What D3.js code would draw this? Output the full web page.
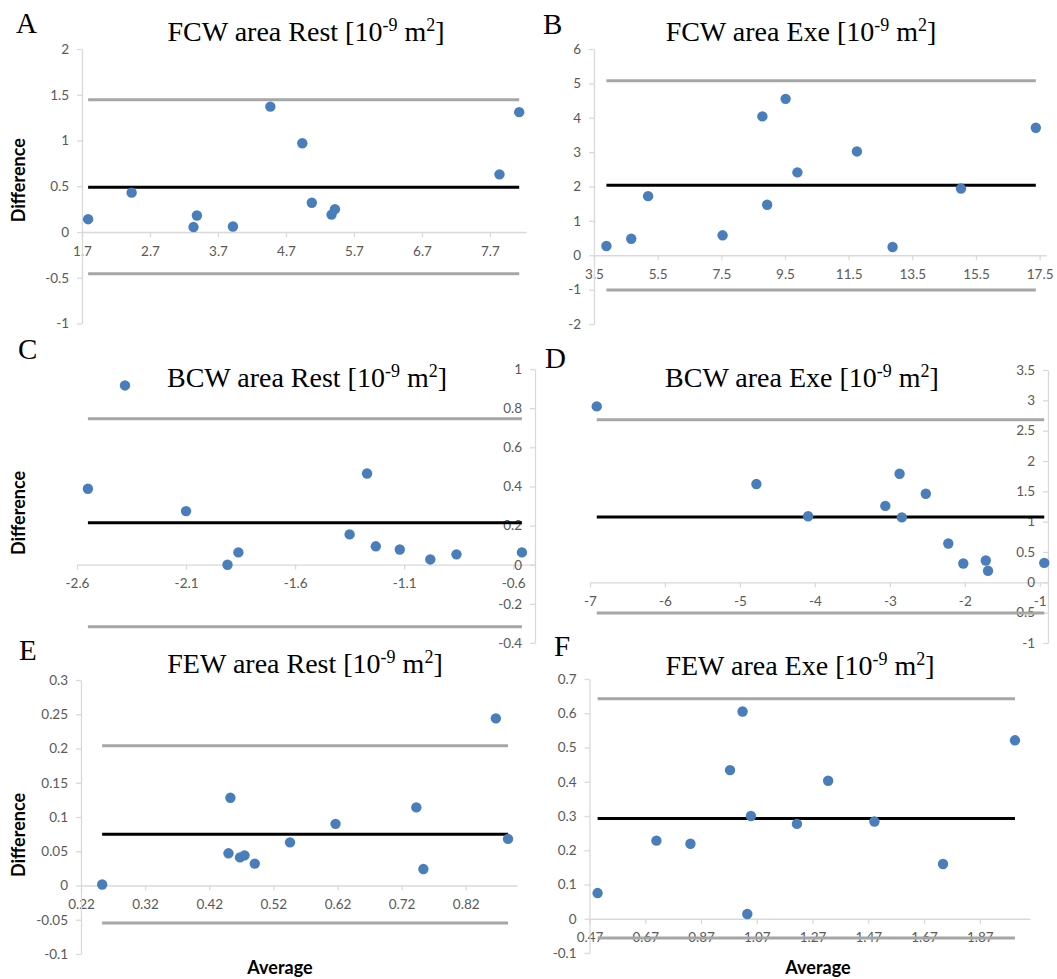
<!DOCTYPE html>
<html><head><meta charset="utf-8">
<script src="https://cdn.jsdelivr.net/npm/d3@7"></script>
<style>body{margin:0;background:#fff}svg{display:block}</style>
</head><body>
<svg id="chart" width="1057" height="979"></svg>
<script>
// ---------- DATA ----------
const panelLetters = ["A", "B", "C", "D", "E", "F"];
const panelTitles = ["FCW area Rest", "FCW area Exe", "BCW area Rest", "BCW area Exe", "FEW area Rest", "FEW area Exe"];

const avgA = [1.79, 2.43, 3.34, 3.39, 3.92, 4.47, 4.94, 5.08, 5.37, 5.42, 7.84, 8.13];
const diffA = [0.14, 0.43, 0.054, 0.18, 0.06, 1.37, 0.97, 0.32, 0.19, 0.25, 0.63, 1.31];
const avgB = [3.89, 4.67, 5.20, 7.54, 8.79, 8.94, 9.52, 9.89, 11.76, 12.88, 15.03, 17.38];
const diffB = [0.27, 0.48, 1.72, 0.58, 4.04, 1.47, 4.55, 2.41, 3.02, 0.24, 1.94, 3.71];
const avgC = [-2.55, -2.38, -2.10, -1.91, -1.86, -1.35, -1.27, -1.23, -1.12, -0.98, -0.86, -0.56];
const diffC = [0.388, 0.916, 0.274, 0.0, 0.063, 0.155, 0.466, 0.094, 0.078, 0.027, 0.053, 0.063];
const avgD = [-6.91, -4.78, -4.09, -3.06, -2.87, -2.84, -2.52, -2.22, -2.02, -1.72, -1.69, -0.94];
const diffD = [2.90, 1.62, 1.09, 1.26, 1.79, 1.07, 1.46, 0.64, 0.31, 0.36, 0.19, 0.32];
const avgE = [0.253, 0.450, 0.453, 0.468, 0.475, 0.491, 0.546, 0.617, 0.743, 0.754, 0.867, 0.886];
const diffE = [0.0015, 0.047, 0.128, 0.041, 0.044, 0.032, 0.063, 0.090, 0.114, 0.024, 0.244, 0.068];
const avgF = [0.499, 0.71, 0.832, 0.974, 1.019, 1.036, 1.049, 1.214, 1.326, 1.492, 1.738, 1.996];
const diffF = [0.075, 0.228, 0.219, 0.434, 0.605, 0.014, 0.300, 0.277, 0.403, 0.284, 0.160, 0.521];

// mean difference, upper and lower limits of agreement
const meanLines = [0.49, 2.035, 0.214, 1.077, 0.075, 0.293];
const upperLines = [1.446, 5.08, 0.746, 2.68, 0.204, 0.642];
const lowerLines = [-0.457, -1.01, -0.317, -0.505, -0.0546, -0.056];

// axis domains and tick labels
const xDomainA = [1.7, 8.23], yDomainA = [-1, 2];
const xDomainB = [3.5, 17.7], yDomainB = [-2, 6];
const xDomainC = [-2.6, -0.5], yDomainC = [-0.4, 1];
const xDomainD = [-7, -0.89], yDomainD = [-1, 3.5];
const xDomainE = [0.22, 0.9], yDomainE = [-0.1, 0.3];
const xDomainF = [0.47, 2.05], yDomainF = [-0.1, 0.7];

const xTicksA = [1.7, 2.7, 3.7, 4.7, 5.7, 6.7, 7.7];
const yTicksA = [-1, -0.5, 0, 0.5, 1, 1.5, 2];
const xTicksB = [3.5, 5.5, 7.5, 9.5, 11.5, 13.5, 15.5, 17.5];
const yTicksB = [-2, -1, 0, 1, 2, 3, 4, 5, 6];
const xTicksC = [-2.6, -2.1, -1.6, -1.1, -0.6];
const yTicksC = [-0.4, -0.2, 0, 0.2, 0.4, 0.6, 0.8, 1];
const xTicksD = [-7, -6, -5, -4, -3, -2, -1];
const yTicksD = [-1, -0.5, 0, 0.5, 1, 1.5, 2, 2.5, 3, 3.5];
const xTicksE = [0.22, 0.32, 0.42, 0.52, 0.62, 0.72, 0.82];
const yTicksE = [-0.1, -0.05, 0, 0.05, 0.1, 0.15, 0.2, 0.25, 0.3];
const xTicksF = [0.47, 0.67, 0.87, 1.07, 1.27, 1.47, 1.67, 1.87];
const yTicksF = [-0.1, 0, 0.1, 0.2, 0.3, 0.4, 0.5, 0.6, 0.7];

const yAxisLabel = "Difference";
const xAxisLabel = "Average";

// ---------- LAYOUT / STYLE ----------
const layout = [
  {avg: avgA, diff: diffA, xd: xDomainA, yd: yDomainA, xt: xTicksA, yt: yTicksA, xr: [82, 526], yr: [323.5, 49], ySide: "min",
   letter: [16, 33], title: [306, 41], yLab: true, xLab: false},
  {avg: avgB, diff: diffB, xd: xDomainB, yd: yDomainB, xt: xTicksB, yt: yTicksB, xr: [594, 1046], yr: [324, 49], ySide: "min",
   letter: [543, 34], title: [801, 41], yLab: false, xLab: false},
  {avg: avgC, diff: diffC, xd: xDomainC, yd: yDomainC, xt: xTicksC, yt: yTicksC, xr: [77, 535], yr: [643, 369], ySide: "max",
   letter: [18, 359], title: [307, 387], yLab: true, xLab: false},
  {avg: avgD, diff: diffD, xd: xDomainD, yd: yDomainD, xt: xTicksD, yt: yTicksD, xr: [590, 1048], yr: [643, 370], ySide: "max",
   letter: [545, 368], title: [802, 387], yLab: false, xLab: false},
  {avg: avgE, diff: diffE, xd: xDomainE, yd: yDomainE, xt: xTicksE, yt: yTicksE, xr: [81, 517], yr: [954, 680], ySide: "min",
   letter: [19, 660], title: [305, 673], yLab: true, xLab: true},
  {avg: avgF, diff: diffF, xd: xDomainF, yd: yDomainF, xt: xTicksF, yt: yTicksF, xr: [589.5, 1030], yr: [953, 679], ySide: "min",
   letter: [554, 656], title: [800, 675], yLab: false, xLab: true}
];

const svg = d3.select("#chart");
svg.append("rect").attr("width", 1057).attr("height", 979).attr("fill", "#fff");

const serif = "'Liberation Serif', 'Times New Roman', serif";
const sans = "Lato, 'Open Sans', sans-serif";
const fmt = v => String(v);
const axisColor = "#d9d9d9";
const labelColor = "#595959";

layout.forEach((p, i) => {
  const g = svg.append("g");
  const x = d3.scaleLinear().domain(p.xd).range(p.xr);
  const y = d3.scaleLinear().domain(p.yd).range(p.yr);

  // x axis at y = 0
  const gx = g.append("g").attr("transform", `translate(0,${y(0)})`)
    .call(d3.axisBottom(x).tickValues(p.xt).tickFormat(fmt).tickSize(5).tickSizeOuter(0).tickPadding(9));
  // y axis
  const yPos = p.ySide === "min" ? x.range()[0] : x.range()[1];
  const gy = g.append("g").attr("transform", `translate(${yPos},0)`)
    .call(d3.axisLeft(y).tickValues(p.yt).tickFormat(fmt).tickSize(5).tickSizeOuter(0).tickPadding(8));
  [gx, gy].forEach(a => {
    a.select(".domain").attr("stroke", axisColor).attr("stroke-width", 1.3);
    a.selectAll(".tick line").attr("stroke", axisColor).attr("stroke-width", 1.3);
    a.selectAll(".tick text").attr("fill", labelColor).attr("font-family", sans).attr("font-size", 13.5);
  });

  // limit lines
  const ext = d3.extent(p.avg);
  const lines = [
    {v: upperLines[i], c: "#a6a6a6"},
    {v: lowerLines[i], c: "#a6a6a6"},
    {v: meanLines[i], c: "#000"}
  ];
  g.selectAll("line.lim").data(lines).enter().append("line")
    .attr("x1", x(ext[0])).attr("x2", x(ext[1]))
    .attr("y1", d => y(d.v)).attr("y2", d => y(d.v))
    .attr("stroke", d => d.c).attr("stroke-width", 3);

  // points
  g.selectAll("circle").data(p.avg.map((a, k) => [a, p.diff[k]])).enter().append("circle")
    .attr("cx", d => x(d[0])).attr("cy", d => y(d[1])).attr("r", 5.2)
    .attr("fill", "#4a7ebb");

  // title
  const t = g.append("text").attr("x", p.title[0]).attr("y", p.title[1])
    .attr("text-anchor", "middle").attr("font-family", serif).attr("font-size", 28).attr("fill", "#000");
  t.append("tspan").text(panelTitles[i] + " [10");
  t.append("tspan").attr("dy", -10).attr("font-size", 18).text("-9");
  t.append("tspan").attr("dy", 10).text(" m");
  t.append("tspan").attr("dy", -10).attr("font-size", 18).text("2");
  t.append("tspan").attr("dy", 10).text("]");

  // panel letter
  g.append("text").attr("x", p.letter[0]).attr("y", p.letter[1])
    .attr("font-family", serif).attr("font-size", 29).attr("fill", "#000").text(panelLetters[i]);

  if (p.yLab) {
    const cy = (p.yr[0] + p.yr[1]) / 2 + 0;
    g.append("text").attr("transform", `translate(${25},${(p.yr[0] + p.yr[1]) / 2 + (i === 2 ? 7 : (i === 4 ? 18 : -6))}) rotate(-90)`)
      .attr("text-anchor", "middle").attr("font-family", sans).attr("font-weight", "bold")
      .attr("font-size", 18).attr("fill", "#000").text(yAxisLabel);
  }
  if (p.xLab) {
    g.append("text").attr("x", i === 4 ? 280 : 818).attr("y", 974)
      .attr("text-anchor", "middle").attr("font-family", sans).attr("font-weight", "bold")
      .attr("font-size", 18).attr("fill", "#000").text(xAxisLabel);
  }
});
</script>
</body></html>
